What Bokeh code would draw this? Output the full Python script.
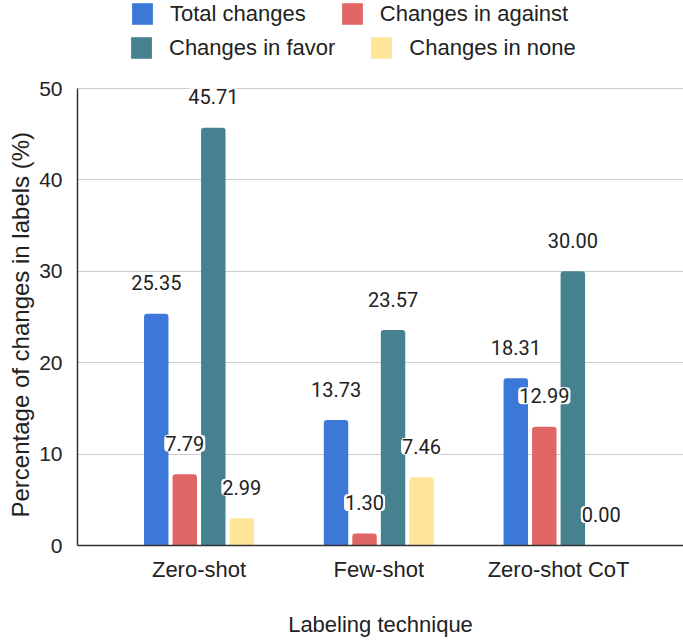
from bokeh.plotting import figure
from bokeh.models import ColumnDataSource, Range1d, FixedTicker, Legend, LegendItem, Title
from bokeh.transform import dodge
from bokeh.core.properties import value
from bokeh.embed import file_html
from bokeh.resources import INLINE

categories = ["Zero-shot", "Few-shot", "Zero-shot CoT"]
series_names = ["Total changes", "Changes in against", "Changes in favor", "Changes in none"]
total_changes = [25.35, 13.73, 18.31]
changes_against = [7.79, 1.30, 12.99]
changes_favor = [45.71, 23.57, 30.00]
changes_none = [2.99, 7.46, 0.00]
y_ticks = [0, 10, 20, 30, 40, 50]
x_title = "Labeling technique"
y_title = "Percentage of changes in labels (%)"

colors = ["#3c78d8", "#e06666", "#45818e", "#ffe599"]
series_values = [total_changes, changes_against, changes_favor, changes_none]

idx = list(range(len(categories)))

# frame spans the full height so the legend can sit inside it; axis is bounded at 0..50
p = figure(width=683, height=640, output_backend="svg", toolbar_location=None,
           x_range=Range1d(-0.676, 2.695), y_range=Range1d(0, 50 * 545 / 457),
           min_border_left=77, min_border_right=0, min_border_top=0,
           min_border_bottom=95)
p.title.visible = False

pitch = 0.1586
offsets = [-1.5 * pitch, -0.5 * pitch, 0.5 * pitch, 1.5 * pitch]
renderers = []
sources = []
for i, (name, vals) in enumerate(zip(series_names, series_values)):
    src = ColumnDataSource(dict(x=idx, top=vals, label=[f"{v:.2f}" for v in vals]))
    sources.append(src)
    r = p.vbar(x=dodge("x", offsets[i], range=p.x_range), top="top", bottom=0,
               width=0.136, source=src, fill_color=colors[i], line_color=None,
               border_radius=(3, 3, 0, 0))
    renderers.append(r)

for i, src in enumerate(sources):
    p.text(x=dodge("x", offsets[i], range=p.x_range), y="top", text="label", source=src,
           text_align="center", text_baseline="alphabetic", y_offset=-31,
           text_font=value("Roboto"), text_font_size="20px", text_color="#222222",
           background_fill_color="white", padding=1, border_radius=4)

leg_common = dict(orientation="horizontal", glyph_width=26, glyph_height=27,
                  label_height=27, label_standoff=15, spacing=33, padding=0, margin=0,
                  border_line_color=None, background_fill_alpha=0,
                  label_text_font="Liberation Sans", label_text_font_size="22px",
                  label_text_color="#222222")
leg1 = Legend(items=[LegendItem(label=series_names[0], renderers=[renderers[0]]),
                     LegendItem(label=series_names[1], renderers=[renderers[1]])],
              location=(52, 518), **leg_common)
leg2 = Legend(items=[LegendItem(label=series_names[2], renderers=[renderers[2]]),
                     LegendItem(label=series_names[3], renderers=[renderers[3]])],
              location=(51, 484), **leg_common)
p.add_layout(leg1)
p.add_layout(leg2)

xa = p.xaxis[0]
xa.ticker = FixedTicker(ticks=idx)
xa.major_label_overrides = {i: c for i, c in zip(idx, categories)}
xa.major_tick_line_color = None
xa.minor_tick_line_color = None
xa.major_tick_out = 0
xa.axis_line_color = "#333333"
xa.axis_line_width = 1.5
xa.major_label_text_font = "Liberation Sans"
xa.major_label_text_font_size = "22px"
xa.major_label_text_color = "#222222"
xa.major_label_standoff = 11
xa.axis_label = x_title
xa.axis_label_text_font = "Liberation Sans"
xa.axis_label_text_font_size = "22px"
xa.axis_label_text_font_style = "normal"
xa.axis_label_text_color = "#222222"
xa.axis_label_standoff = 27

ya = p.yaxis[0]
ya.ticker = FixedTicker(ticks=y_ticks)
ya.bounds = (0, 50)
ya.major_tick_line_color = None
ya.minor_tick_line_color = None
ya.major_tick_out = 0
ya.axis_line_color = "#333333"
ya.axis_line_width = 1.5
ya.major_label_text_font = "Liberation Sans"
ya.major_label_text_font_size = "21px"
ya.major_label_text_color = "#222222"
ya.major_label_standoff = 15

# y title centred on the bounded axis (0..50) rather than on the taller frame
yt = Title(text=y_title, align="left", offset=28, vertical_align="top", standoff=2,
           text_font="Liberation Sans", text_font_size="24px", text_font_style="normal",
           text_color="#222222")
p.add_layout(yt, "left")

p.xgrid.visible = False
p.ygrid.grid_line_color = "#cccccc"
p.ygrid.grid_line_width = 1.2
p.outline_line_color = None

open("out.html", "w").write(file_html(p, INLINE))
